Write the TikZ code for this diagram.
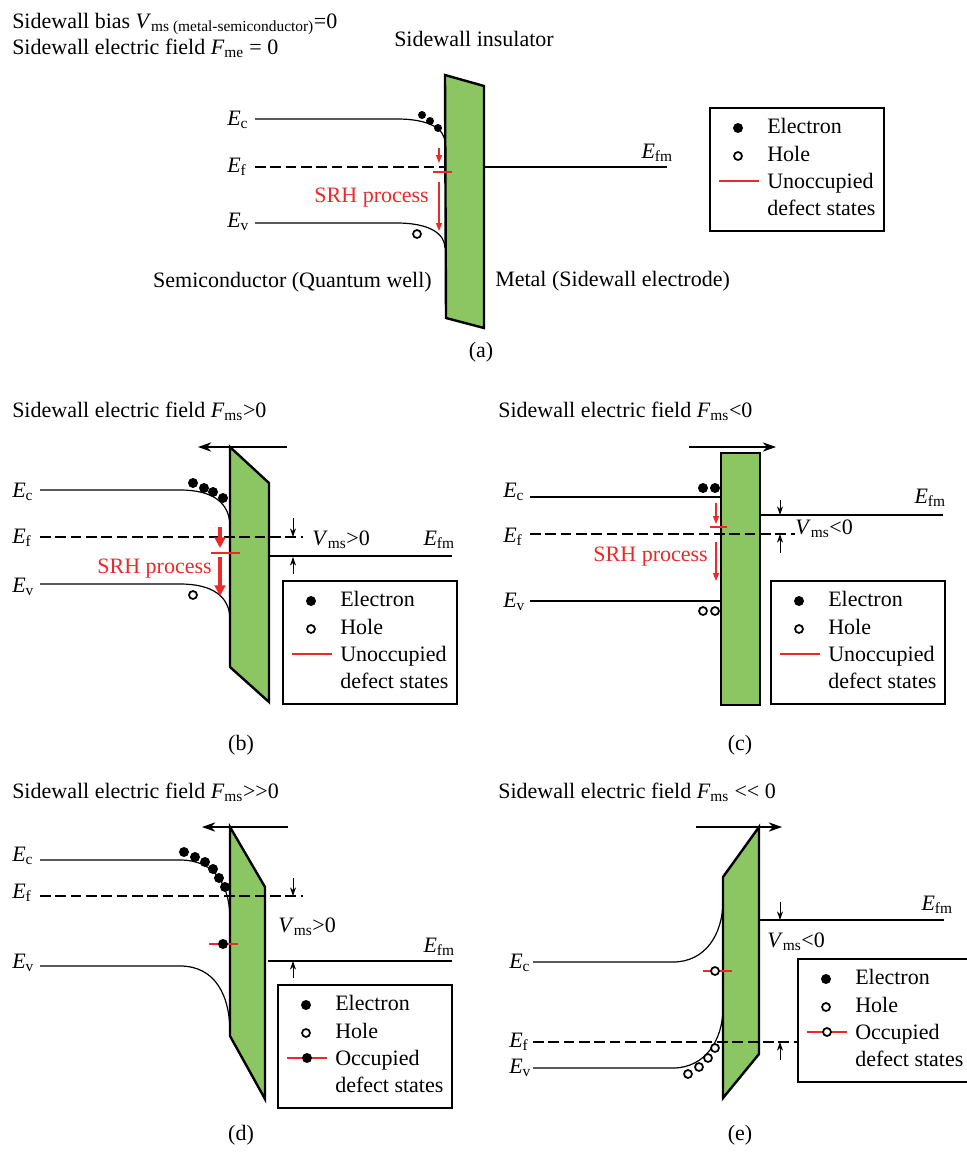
\documentclass[tikz,border=0pt]{standalone}
\usepackage{fontspec}
\setmainfont{Liberation Serif}
\usetikzlibrary{arrows.meta}
\definecolor{wallgreen}{RGB}{139,198,99}
\definecolor{srhred}{RGB}{236,40,40}
\tikzset{
  band/.style={line width=0.9pt},
  fermi/.style={line width=0.9pt,dash pattern=on 8pt off 3.5pt},
  wall/.style={draw,fill=wallgreen,line width=1.8pt},
  hole/.style={draw,fill=white,line width=1.3pt},
  defect/.style={srhred,line width=1.5pt},
  field/.style={line width=0.9pt,-{Stealth[length=10pt,width=7pt]}},
  vms/.style={line width=0.7pt,-{Stealth[length=6.5pt,width=4.5pt]}},
  srh/.style={srhred,line width=1pt,-{Triangle[length=6pt,width=4.5pt]}},
  srhbig/.style={srhred,line width=3pt,-{Triangle[length=8pt,width=8pt]}},
  keybox/.style={draw,line width=1.8pt}
}
% legend box: name, left, top, word, extra symbol
\newcommand{\keybox}[5]{%
  \draw[keybox] (#2,#3) rectangle ++(174,123);
  \fill (#2+28,#3+20) circle (3.75pt);
  \draw[hole] (#2+28,#3+48) circle (3pt);
  \coordinate (#1-def) at (#2+29,#3+73);
  \draw[defect] (#2+9,#3+73) -- (#2+49,#3+73);
  #5
  \node[anchor=base west] (#1-e) at (#2+57,#3+25) {Electron};
  \node[anchor=base west] (#1-h) at (#2+57,#3+53) {Hole};
  \node[anchor=base west] (#1-u) at (#2+57,#3+80) {#4};
  \node[anchor=base west] (#1-s) at (#2+57,#3+107) {defect states};
}

\begin{document}
\begin{tikzpicture}[x=0.75pt,y=-0.75pt,
  every node/.style={inner sep=0pt,font=\fontsize{16.5}{19}\selectfont}]
\useasboundingbox (0,0) rectangle (967,1164);
\clip (0,0) rectangle (967,1164);

% (a) zero bias
\node[anchor=base west] (a-t1) at (12,28) {Sidewall bias \textit{V}\textsubscript{ms (metal-semiconductor)}=0};
\node[anchor=base west] (a-t2) at (12,54) {Sidewall electric field \textit{F}\textsubscript{me} = 0};
\node[anchor=base] (a-ins) at (474,46) {Sidewall insulator};
\draw[wall] (445,75) -- (484,86) -- (484,328) -- (446,318) -- cycle;
\draw[band] (255,119) -- (397,119) .. controls (428,119) and (445,128) .. (445,143);
\draw[fermi] (255,167) -- (445,167);
\draw[band] (255,223) -- (397,223) .. controls (428,223) and (445,233) .. (445,248);
\draw[band] (484,167) -- (667,167);
\foreach \p in {(422,115),(430,121),(438,128)} \fill \p circle (3pt);
\draw[hole] (417,234) circle (3pt);
\draw[srh] (439,148) -- (439,163);
\draw[defect] (433,172) -- (452,172);
\draw[srh] (439,182) -- (439,231);
\node[anchor=base east,text=srhred] (a-srh) at (429,202) {SRH process};
\node[anchor=base west] (a-ec) at (227,125) {\textit{E}\textsubscript{c}};
\node[anchor=base west] (a-ef) at (227,172) {\textit{E}\textsubscript{f}};
\node[anchor=base west] (a-ev) at (227,227) {\textit{E}\textsubscript{v}};
\node[anchor=base east] (a-efm) at (673,158) {\textit{E}\textsubscript{fm}};
\node[anchor=base east] (a-semi) at (432,287) {Semiconductor (Quantum well)};
\node[anchor=base west] (a-metal) at (495,286) {Metal (Sidewall electrode)};
\keybox{a}{710}{108}{Unoccupied}{}
\node (a-cap) at (481,352) {(a)};

% (b) positive field
\node[anchor=base west] (b-t) at (12,417) {Sidewall electric field \textit{F}\textsubscript{ms}>0};
\draw[field] (287,447) -- (198,447);
\draw[wall] (230,447) -- (269,483) -- (269,702) -- (230,667) -- cycle;
\draw[band] (40,490) -- (180,490) .. controls (212,490) and (230,502) .. (230,527);
\draw[fermi] (40,537) -- (303,537);
\draw[band] (40,584) -- (180,584) .. controls (212,584) and (230,596) .. (230,620);
\draw[band] (269,556) -- (452,556);
\foreach \p in {(193,483),(204,488),(213,492),(223,498)} \fill \p circle (3.75pt);
\draw[hole] (193,595) circle (3pt);
\draw[srhbig] (220,527) -- (220,548);
\draw[defect] (211,553) -- (240,553);
\draw[srhbig] (220,557) -- (220,596);
\node[anchor=base east,text=srhred] (b-srh) at (212,573) {SRH process};
\draw[vms] (293,518) -- (293,537);
\draw[vms] (293,574) -- (293,557);
\node[anchor=base west] (b-ec) at (12,497) {\textit{E}\textsubscript{c}};
\node[anchor=base west] (b-ef) at (12,543) {\textit{E}\textsubscript{f}};
\node[anchor=base west] (b-ev) at (12,592) {\textit{E}\textsubscript{v}};
\node[anchor=base west] (b-vms) at (312,545) {\textit{V}\textsubscript{ms}>0};
\node[anchor=base east] (b-efm) at (455,545) {\textit{E}\textsubscript{fm}};
\keybox{b}{283}{581}{Unoccupied}{}
\node (b-cap) at (241,745) {(b)};

% (c) negative field
\node[anchor=base west] (c-t) at (498,417) {Sidewall electric field \textit{F}\textsubscript{ms}<0};
\draw[field] (689,447) -- (776,447);
\draw[wall] (721,453) rectangle (760,705);
\draw[band] (530,497) -- (721,497);
\draw[fermi] (530,534) -- (795,534);
\draw[band] (530,601) -- (721,601);
\draw[band] (760,515) -- (943,515);
\foreach \p in {(703,488),(715,488)} \fill \p circle (3.75pt);
\foreach \p in {(703,611),(715,611)} \draw[hole] \p circle (3pt);
\draw[srh] (716,503) -- (716,524);
\draw[defect] (710,527) -- (727,527);
\draw[srh] (716,542) -- (716,581);
\node[anchor=base east,text=srhred] (c-srh) at (708,561) {SRH process};
\draw[vms] (780,500) -- (780,515);
\draw[vms] (780,553) -- (780,534);
\node[anchor=base west] (c-ec) at (503,497) {\textit{E}\textsubscript{c}};
\node[anchor=base west] (c-ef) at (503,542) {\textit{E}\textsubscript{f}};
\node[anchor=base west] (c-ev) at (503,607) {\textit{E}\textsubscript{v}};
\node[anchor=base west] (c-vms) at (795,534) {\textit{V}\textsubscript{ms}<0};
\node[anchor=base east] (c-efm) at (946,503) {\textit{E}\textsubscript{fm}};
\keybox{c}{771}{581}{Unoccupied}{}
\node (c-cap) at (740,745) {(c)};

% (d) strong positive field
\node[anchor=base west] (d-t) at (12,798) {Sidewall electric field \textit{F}\textsubscript{ms}>\kern0pt>0};
\draw[field] (288,827) -- (202,827);
\draw[wall] (230,827) -- (265,887) -- (265,1099) -- (230,1036) -- cycle;
\draw[band] (40,860) -- (180,860) .. controls (215,860) and (230,885) .. (230,920);
\draw[fermi] (40,896) -- (303,896);
\draw[band] (40,966) -- (180,966) .. controls (215,966) and (230,995) .. (230,1033);
\draw[band] (268,961) -- (452,961);
\foreach \p in {(184,852),(195,857),(205,862),(213,869),(219,878),(225,887)} \fill \p circle (3.75pt);
\draw[defect] (209,944) -- (238,944);
\fill (223,944) circle (3.75pt);
\draw[vms] (293,878) -- (293,896);
\draw[vms] (293,978) -- (293,961);
\node[anchor=base west] (d-ec) at (12,861) {\textit{E}\textsubscript{c}};
\node[anchor=base west] (d-ef) at (12,898) {\textit{E}\textsubscript{f}};
\node[anchor=base west] (d-ev) at (12,968) {\textit{E}\textsubscript{v}};
\node[anchor=base west] (d-vms) at (278,932) {\textit{V}\textsubscript{ms}>0};
\node[anchor=base east] (d-efm) at (455,952) {\textit{E}\textsubscript{fm}};
\keybox{d}{278}{985}{Occupied}{\fill (d-def) circle (3.75pt);}
\node (d-cap) at (241,1135) {(d)};

% (e) strong negative field
\node[anchor=base west] (e-t) at (498,798) {Sidewall electric field \textit{F}\textsubscript{ms} <\kern0pt< 0};
\draw[field] (696,827) -- (782,827);
\draw[wall] (723,877) -- (759,827) -- (759,1054) -- (723,1098) -- cycle;
\draw[band] (533,962) -- (673,962) .. controls (705,962) and (723,935) .. (723,900);
\draw[fermi] (533,1042) -- (797,1042);
\draw[band] (533,1068) -- (673,1068) .. controls (705,1068) and (723,1040) .. (723,1008);
\draw[band] (759,920) -- (944,920);
\foreach \p in {(688,1074),(699,1067),(708,1058),(715,1048)} \draw[hole] \p circle (3pt);
\draw[defect] (703,971) -- (732,971);
\draw[hole] (715,971) circle (3pt);
\draw[vms] (780,902) -- (780,920);
\draw[vms] (780,1060) -- (780,1042);
\node[anchor=base west] (e-ec) at (509,968) {\textit{E}\textsubscript{c}};
\node[anchor=base west] (e-ef) at (509,1047) {\textit{E}\textsubscript{f}};
\node[anchor=base west] (e-ev) at (509,1073) {\textit{E}\textsubscript{v}};
\node[anchor=base west] (e-vms) at (767,947) {\textit{V}\textsubscript{ms}<0};
\node[anchor=base east] (e-efm) at (953,910) {\textit{E}\textsubscript{fm}};
\keybox{e}{798}{959}{Occupied}{\draw[hole] (e-def) circle (3pt);}
\node (e-cap) at (740,1135) {(e)};
\end{tikzpicture}
\end{document}
